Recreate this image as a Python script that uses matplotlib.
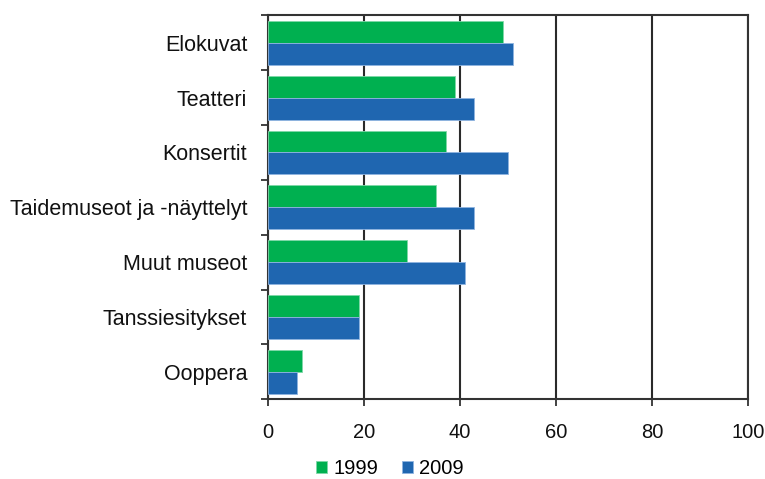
import matplotlib.pyplot as plt
import numpy as np

plt.rcParams['font.family'] = ['Liberation Sans', 'DejaVu Sans']

categories = ['Elokuvat', 'Teatteri', 'Konsertit', 'Taidemuseot ja -näyttelyt',
              'Muut museot', 'Tanssiesitykset', 'Ooppera']
v1999 = [49, 39, 37, 35, 29, 19, 7]
v2009 = [51, 43, 50, 43, 41, 19, 6]
xticks = [0, 20, 40, 60, 80, 100]

green = '#00b050'
blue = '#1f66b0'

fig = plt.figure(figsize=(7.65, 4.79), dpi=100)
ax = fig.add_axes([0.3503, 0.1664, 0.6275, 0.8016])

y = np.arange(len(categories))
h = 0.4
ax.barh(y - h / 2, v1999, height=h, color=green, edgecolor='#7fd8a8', linewidth=0.6,
        label='1999', zorder=3)
ax.barh(y + h / 2, v2009, height=h, color=blue, edgecolor='#8fb4e0', linewidth=0.6,
        label='2009', zorder=3)

ax.set_xlim(0, 100)
ax.set_ylim(len(categories) - 0.5, -0.5)
ax.set_xticks(xticks)
ax.set_xticklabels([str(t) for t in xticks], fontsize=14.5, color='#111111')
ax.tick_params(axis='x', length=5, width=1.3, color='#333333', pad=12)

# category labels centred, ticks at category boundaries
ax.set_yticks(np.arange(-0.5, len(categories), 1))
ax.set_yticklabels([])
ax.set_yticks(y, minor=True)
ax.set_yticklabels(categories, minor=True, fontsize=15.5, color='#111111')
ax.tick_params(axis='y', which='major', length=5, width=1.3, color='#333333')
ax.tick_params(axis='y', which='minor', length=0, pad=15)

ax.grid(axis='x', color='#2a2a2a', linewidth=1.5, zorder=1)
for s in ['top', 'right', 'left', 'bottom']:
    ax.spines[s].set_color('#333333')
    ax.spines[s].set_linewidth(1.5)

fig.legend(loc='center', bbox_to_anchor=(0.51, 0.022), ncol=2, frameon=False,
           fontsize=14.5, handlelength=0.55, handleheight=0.55, handletextpad=0.3,
           columnspacing=1.2, borderaxespad=0)

fig.savefig('out.png', dpi=100)
